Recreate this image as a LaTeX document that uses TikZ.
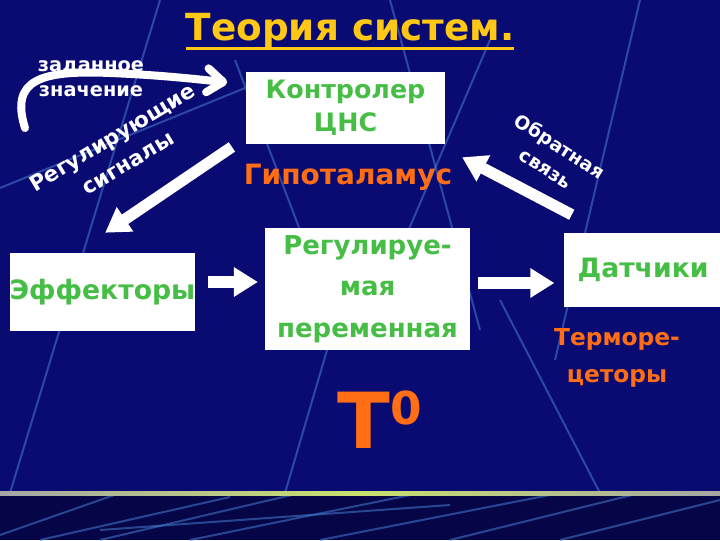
\documentclass[tikz,border=0pt]{standalone}
\usepackage{fontspec}
\setmainfont{DejaVu Sans}
\usetikzlibrary{arrows.meta, positioning, calc}
\definecolor{slidebg}{RGB}{10,10,115}
\definecolor{slidebot}{RGB}{5,5,72}
\definecolor{decoline}{RGB}{70,125,205}
\definecolor{txtgreen}{RGB}{70,190,70}
\definecolor{txtorange}{RGB}{255,110,20}
\definecolor{txtyellow}{RGB}{255,200,20}
\definecolor{rulegreen}{RGB}{200,225,110}

\begin{document}
\begin{tikzpicture}[
  x=0.75pt, y=-0.75pt,
  box/.style={fill=white, inner sep=0pt, font=\bfseries\fontsize{19}{25}\selectfont, text=txtgreen, align=center},
  wlabel/.style={font=\bfseries\fontsize{16}{22.5}\selectfont, text=white, align=center, inner sep=0pt},
  orangetxt/.style={font=\bfseries\fontsize{19}{28}\selectfont, text=txtorange, align=center, inner sep=0pt},
  bigarrow/.style={draw=white, line width=8.5pt, -{Triangle[width=21pt,length=18pt]}},
  curvearrow/.style={draw=white, line width=6pt, line cap=round, -{Straight Barb[length=12pt,width=18pt,round]}},
  deco/.style={decoline, line width=1.5pt, opacity=0.55},
]
  % Background
  \clip (0,0) rectangle (720,540);
  \fill[slidebg] (0,0) rectangle (720,493);
  \fill[slidebot] (0,493) rectangle (720,540);
  \draw[deco] (160,0) -- (10,493);
  \draw[deco] (245,88) -- (0,188);
  \draw[deco] (390,0) -- (480,330);
  \draw[deco] (490,40) -- (400,250);
  \draw[deco] (235,60) -- (300,230);
  \draw[deco] (640,0) -- (555,360);
  \draw[deco] (500,300) -- (600,493);
  \draw[deco] (330,340) -- (285,493);
  \draw[deco] (0,535) -- (120,493);
  \draw[deco] (40,540) -- (230,497);
  \draw[deco] (100,540) -- (300,493);
  \draw[deco] (190,540) -- (420,493);
  \draw[deco] (320,540) -- (560,493);
  \draw[deco] (450,540) -- (640,493);
  \draw[deco] (560,540) -- (720,500);
  \draw[deco] (100,530) -- (450,505);
  \shade[left color=gray!70, right color=gray!70, middle color=rulegreen] (0,491) rectangle (720,495);

  % Title
  \node[font=\bfseries\fontsize{28}{28}\selectfont, text=txtyellow, inner sep=0pt] (title) at (350,31) {Теория систем.};
  \draw[txtyellow, line width=2pt] ([yshift=-6pt]title.base west) -- ([yshift=-6pt]title.base east);

  % Nodes
  \node[box, minimum width=149pt, minimum height=54pt] (ctrl) at (345.5,108) {Контролер\\ЦНС};
  \node[orangetxt, font=\bfseries\fontsize{21}{28}\selectfont] (hypo) at (348,177) {Гипоталамус};
  \node[box, minimum width=136pt, minimum height=58.5pt, font=\bfseries\fontsize{20}{24}\selectfont] (eff) at (102.5,292) {Эффекторы};
  \node[box, minimum width=154pt, minimum height=91.5pt, font=\bfseries\fontsize{19.5}{31}\selectfont] (var) at (367.5,289) {Регулируе-\\мая\\переменная};
  \node[box, minimum width=118.5pt, minimum height=55.5pt, font=\bfseries\fontsize{20}{25}\selectfont] (sens) at (643,270) {Датчики};
  \node[orangetxt, font=\bfseries\fontsize{17.5}{28}\selectfont] (thermo) at (617,358) {Терморе-\\цеторы};
  \node[text=txtorange, inner sep=0pt, font=\bfseries\fontsize{58}{58}\selectfont] (temp) at (380,420) {T\raisebox{18pt}{\fontsize{34}{34}\selectfont 0}};

  % Labels
  \node[wlabel, font=\bfseries\fontsize{14.5}{19}\selectfont] (setval) at (91,79) {заданное\\значение};
  \node[wlabel, rotate=31] (sig) at (120,150) {Регулирующие\\сигналы};
  \node[wlabel, rotate=-33, font=\bfseries\fontsize{14}{19.5}\selectfont] (fb) at (553,157) {Обратная\\связь};

  % Edges
  \coordinate (setpt) at (25,128);
  \draw[curvearrow] (setpt) .. controls (10,80) and (40,70) .. (110,73) .. controls (160,75) and (195,79) .. ([xshift=-14pt,yshift=-8pt]ctrl.north west);
  \draw[bigarrow] ([xshift=-10.5pt,yshift=-2pt]ctrl.south west) -- ([xshift=2pt,yshift=15pt]eff.north);
  \draw[bigarrow, shorten <=9pt, shorten >=5pt] ([yshift=7.5pt]eff.east) -- ([yshift=7.5pt]eff.east -| var.west);
  \draw[bigarrow, shorten <=6pt, shorten >=7pt] ([yshift=4.5pt]var.east) -- ([yshift=4.5pt]var.east -| sens.west);
  \draw[bigarrow] ([xshift=6pt,yshift=13.5pt]sens.north west) -- ([xshift=12.75pt,yshift=-9.75pt]ctrl.south east);
\end{tikzpicture}
\end{document}
